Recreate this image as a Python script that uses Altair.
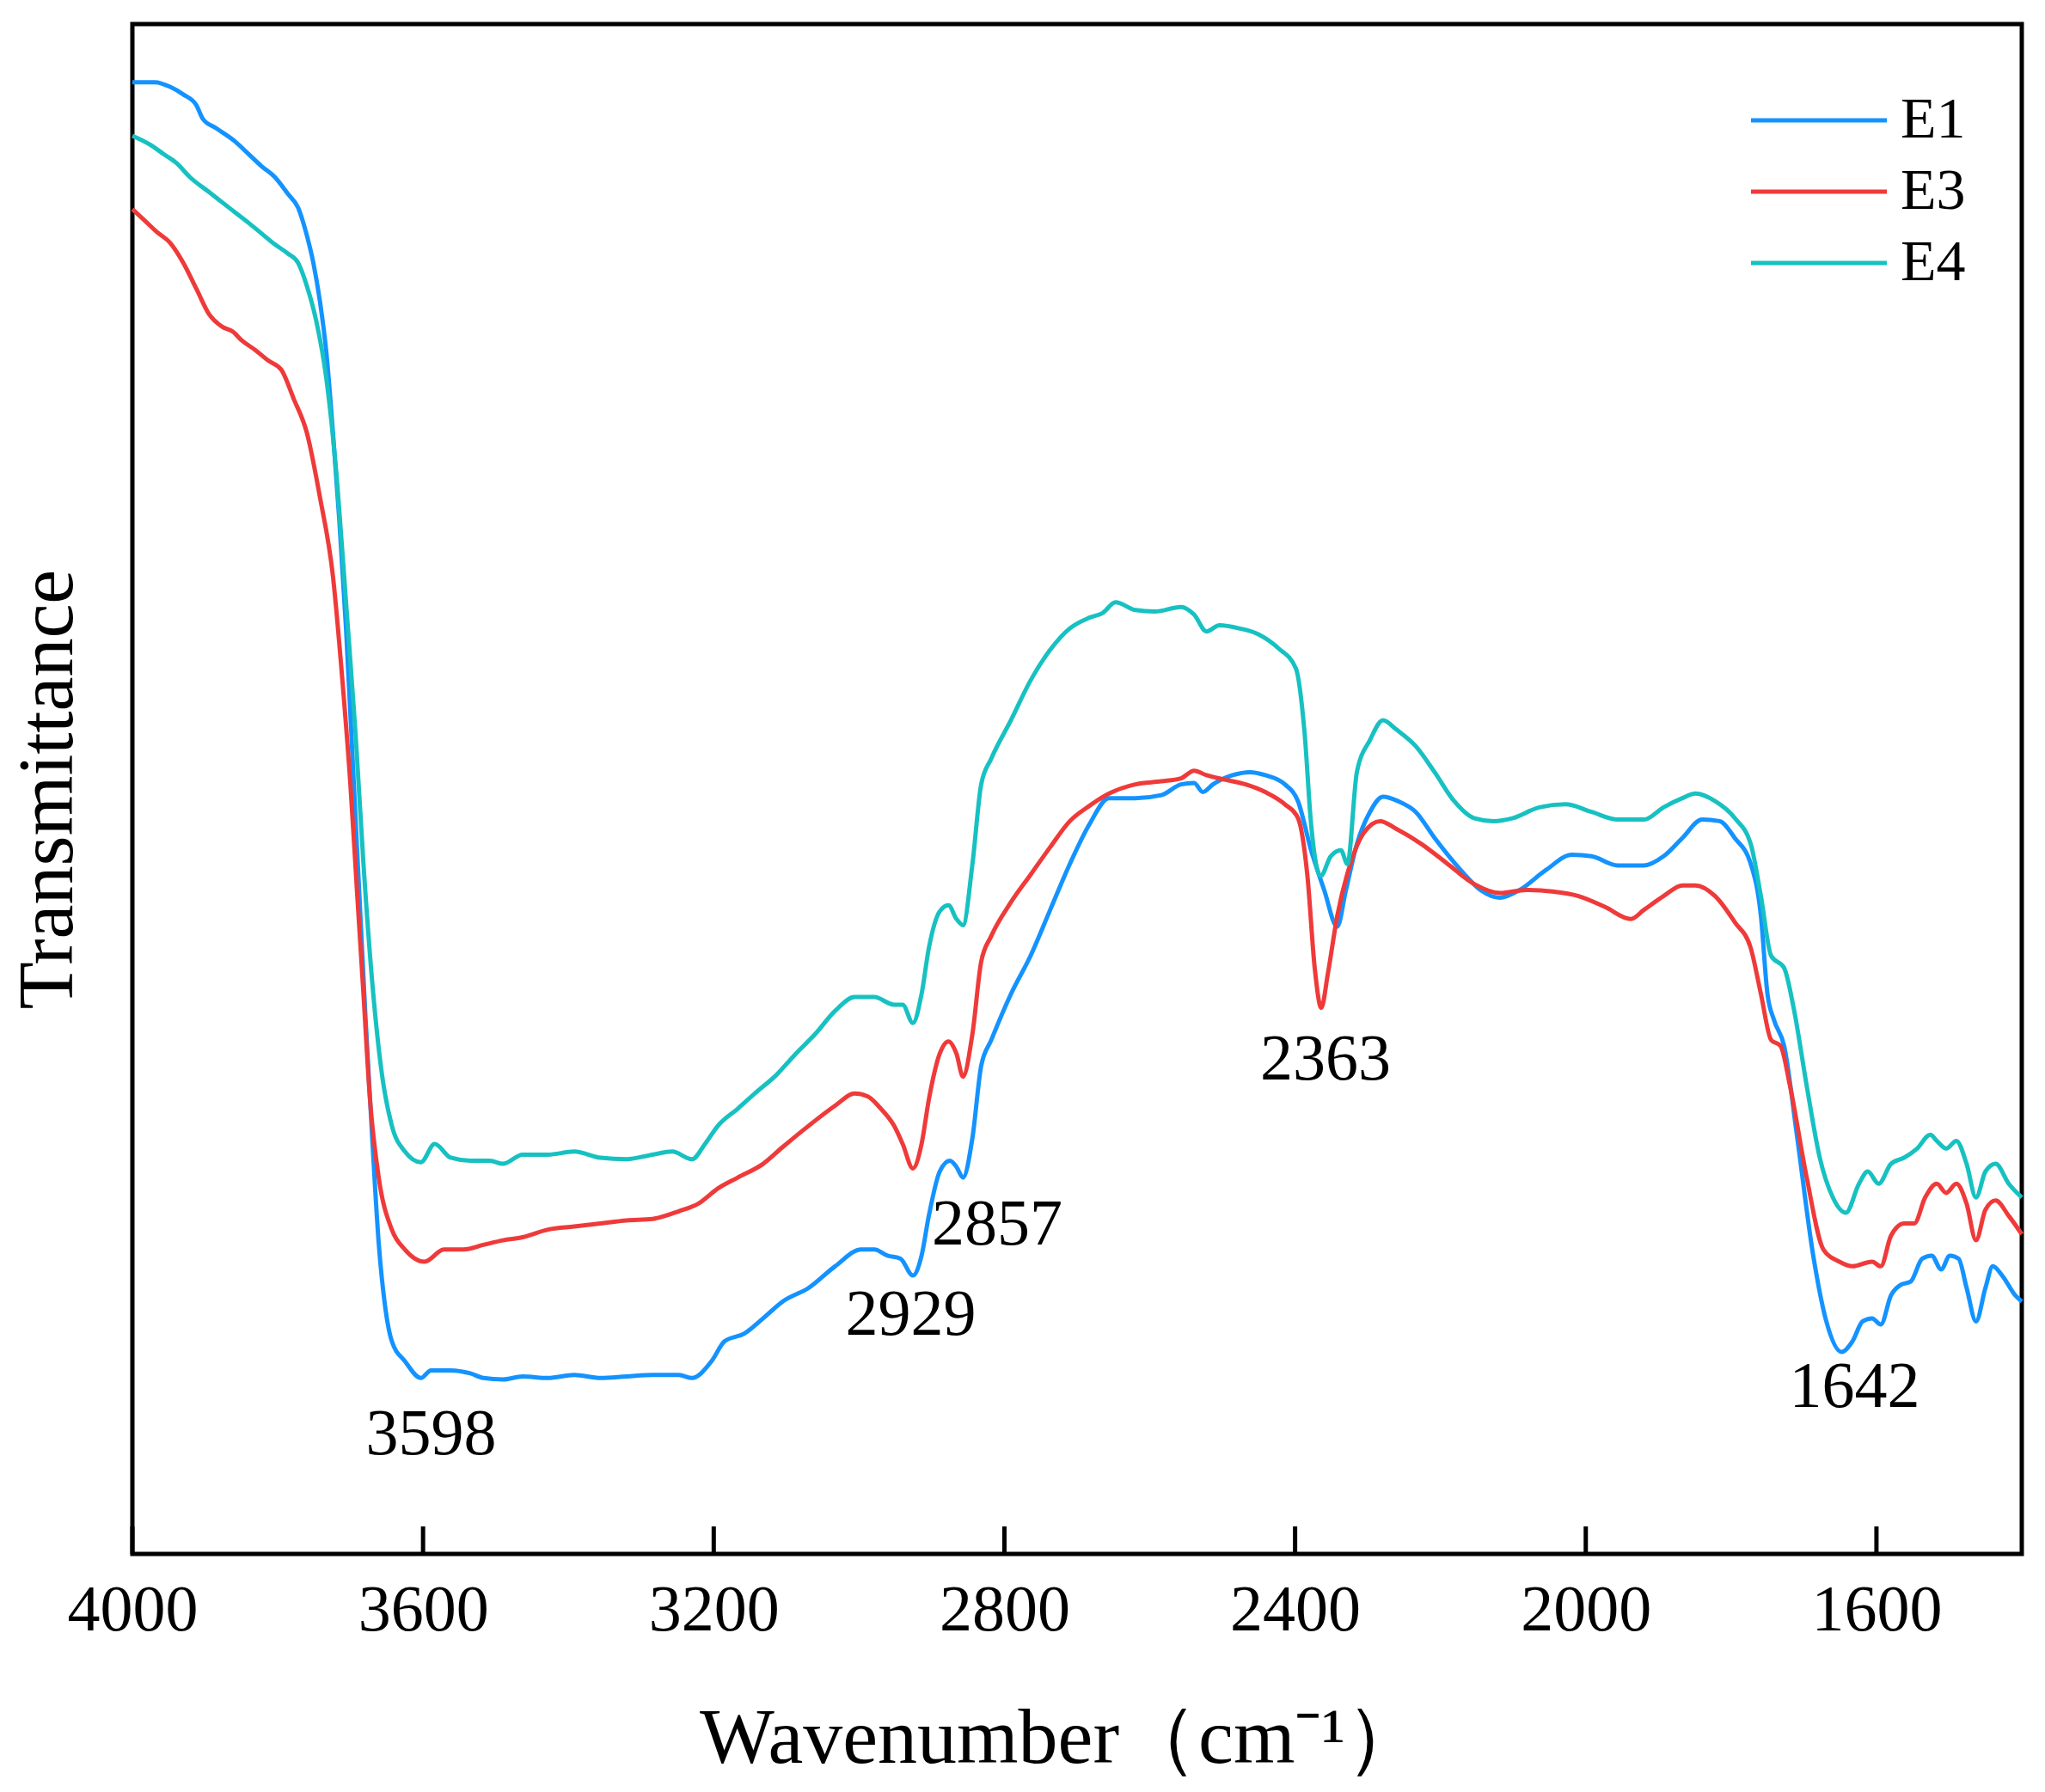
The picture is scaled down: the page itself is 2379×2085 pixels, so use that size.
import altair as alt
import pandas as pd

# ---------------- data ----------------
E1_WN = [4000, 3969, 3948, 3930, 3912, 3903, 3885, 3858, 3840, 3822, 3804, 3786, 3772, 3760,
         3751, 3742, 3733, 3724, 3715, 3706, 3697, 3688, 3679, 3670, 3661, 3652, 3643, 3625,
         3603, 3589, 3562, 3535, 3517, 3490, 3463, 3428, 3392, 3356, 3320, 3284, 3248, 3230,
         3203, 3185, 3158, 3132, 3105, 3069, 3033, 2997, 2979, 2961, 2943, 2926, 2914, 2904,
         2889, 2875, 2866, 2857, 2844, 2832, 2818, 2791, 2764, 2737, 2710, 2683, 2656, 2620,
         2584, 2557, 2539, 2527, 2513, 2486, 2462, 2441, 2414, 2396, 2378, 2360, 2342, 2330,
         2315, 2297, 2279, 2258, 2234, 2208, 2172, 2145, 2118, 2091, 2055, 2019, 1992, 1956,
         1920, 1893, 1867, 1840, 1816, 1795, 1773, 1759, 1750, 1741, 1727, 1709, 1687, 1669,
         1648, 1633, 1619, 1606, 1594, 1580, 1566, 1553, 1537, 1524, 1511, 1499, 1487, 1476,
         1463, 1450, 1440, 1427, 1409, 1400]
E1_T = [96.2, 96.2, 95.9, 95.4, 94.7, 93.8, 93.2, 92.3, 91.5, 90.7, 90.0, 88.9, 88.0, 86.2,
        84.4, 81.9, 78.5, 73.3, 67.4, 60.5, 52.0, 43.4, 34.9, 27.2, 20.3, 16.1, 13.9, 12.6,
        11.5, 12.0, 12.0, 11.8, 11.5, 11.4, 11.6, 11.5, 11.7, 11.5, 11.6, 11.7, 11.7, 11.5,
        12.6, 13.9, 14.4, 15.4, 16.5, 17.4, 18.8, 19.9, 19.9, 19.5, 19.3, 18.2, 19.5, 22.1,
        25.0, 25.7, 25.3, 24.6, 27.2, 31.9, 33.6, 36.6, 39.1, 42.1, 45.1, 47.7, 49.4, 49.4,
        49.6, 50.3, 50.4, 49.8, 50.3, 50.9, 51.1, 50.9, 50.3, 49.2, 46.0, 43.4, 41.0, 43.4,
        46.4, 48.5, 49.5, 49.2, 48.5, 46.8, 44.7, 43.4, 42.9, 43.4, 44.7, 45.7, 45.6, 45.0,
        45.0, 45.6, 46.8, 48.0, 47.9, 46.8, 45.1, 41.7, 36.6, 34.9, 33.2, 27.2, 19.5, 15.2,
        13.2, 13.9, 15.2, 15.4, 15.0, 16.9, 17.6, 17.8, 19.3, 19.5, 18.6, 19.5, 19.3, 17.4,
        15.2, 17.4, 18.8, 18.2, 16.9, 16.5]

E3_WN = [4000, 3984, 3966, 3948, 3930, 3912, 3894, 3876, 3862, 3849, 3831, 3813, 3795, 3778,
         3760, 3742, 3724, 3711, 3700, 3691, 3682, 3673, 3661, 3643, 3625, 3598, 3571, 3544,
         3517, 3490, 3463, 3428, 3392, 3356, 3320, 3284, 3248, 3221, 3194, 3167, 3132, 3105,
         3069, 3033, 3006, 2988, 2970, 2952, 2940, 2926, 2914, 2904, 2889, 2877, 2866, 2857,
         2844, 2832, 2818, 2791, 2764, 2737, 2710, 2683, 2656, 2620, 2584, 2557, 2539, 2522,
         2495, 2468, 2441, 2414, 2396, 2383, 2373, 2364, 2355, 2342, 2324, 2306, 2283, 2261,
         2226, 2190, 2154, 2118, 2082, 2046, 2010, 1974, 1938, 1920, 1893, 1867, 1849, 1822,
         1795, 1773, 1759, 1745, 1732, 1719, 1696, 1673, 1651, 1633, 1606, 1594, 1580, 1562,
         1548, 1533, 1517, 1504, 1490, 1476, 1463, 1450, 1436, 1418, 1400]
E3_T = [87.9, 87.2, 86.4, 85.7, 84.4, 82.7, 81.0, 80.2, 79.9, 79.3, 78.7, 78.0, 77.4, 75.5,
        73.3, 69.1, 63.9, 57.1, 50.3, 43.4, 36.6, 29.7, 24.6, 21.2, 19.9, 19.1, 19.9, 19.9,
        20.2, 20.5, 20.7, 21.2, 21.4, 21.6, 21.8, 21.9, 22.4, 22.9, 23.9, 24.6, 25.5, 26.6,
        28.0, 29.3, 30.1, 29.9, 29.1, 28.0, 26.8, 25.2, 26.8, 29.7, 32.7, 33.5, 32.7, 31.2,
        34.0, 38.7, 40.4, 42.6, 44.4, 46.2, 47.9, 48.9, 49.7, 50.3, 50.5, 50.7, 51.2, 50.9,
        50.6, 50.3, 49.8, 49.0, 48.1, 44.3, 38.3, 35.7, 37.9, 41.7, 45.1, 47.1, 47.9, 47.4,
        46.4, 45.1, 43.8, 43.2, 43.4, 43.3, 43.0, 42.3, 41.5, 42.1, 43.0, 43.7, 43.7, 43.0,
        41.3, 39.6, 36.6, 33.6, 33.2, 30.6, 24.6, 19.9, 19.1, 18.8, 19.1, 18.8, 20.8, 21.6,
        21.6, 23.3, 24.2, 23.6, 24.2, 22.9, 20.5, 22.5, 23.1, 22.1, 20.9]

E4_WN = [4000, 3975, 3957, 3939, 3921, 3894, 3867, 3840, 3822, 3804, 3786, 3772, 3760, 3747,
         3733, 3718, 3706, 3693, 3682, 3670, 3657, 3643, 3625, 3603, 3584, 3562, 3535, 3508,
         3490, 3463, 3428, 3392, 3356, 3320, 3284, 3257, 3230, 3212, 3194, 3167, 3141, 3114,
         3087, 3060, 3033, 3006, 2979, 2952, 2940, 2926, 2914, 2904, 2889, 2877, 2866, 2857,
         2844, 2832, 2818, 2791, 2764, 2737, 2710, 2683, 2665, 2647, 2620, 2593, 2557, 2539,
         2522, 2504, 2477, 2450, 2423, 2399, 2387, 2378, 2365, 2351, 2337, 2328, 2315, 2297,
         2279, 2261, 2234, 2208, 2181, 2154, 2127, 2100, 2064, 2028, 1992, 1956, 1920, 1893,
         1867, 1849, 1822, 1795, 1773, 1759, 1745, 1727, 1714, 1696, 1678, 1660, 1642, 1624,
         1612, 1597, 1580, 1562, 1544, 1526, 1517, 1504, 1490, 1476, 1463, 1450, 1436, 1418,
         1400]
E4_T = [92.7, 92.1, 91.5, 90.9, 90.0, 89.0, 88.0, 87.0, 86.3, 85.6, 85.0, 84.4, 82.9, 80.6,
        76.8, 69.9, 62.2, 53.7, 45.1, 37.4, 31.5, 28.0, 26.3, 25.6, 26.8, 25.9, 25.7, 25.7,
        25.5, 26.1, 26.1, 26.3, 25.9, 25.8, 26.1, 26.3, 25.8, 26.8, 28.0, 29.1, 30.2, 31.3,
        32.7, 34.0, 35.5, 36.4, 36.4, 35.9, 35.9, 34.7, 36.6, 39.6, 42.0, 42.4, 41.5, 41.1,
        45.1, 50.3, 52.0, 54.5, 57.1, 59.1, 60.5, 61.2, 61.5, 62.2, 61.7, 61.6, 61.9, 61.4,
        60.3, 60.7, 60.5, 60.1, 59.2, 57.9, 53.7, 47.7, 44.3, 45.6, 46.0, 45.1, 51.1, 53.2,
        54.5, 53.9, 52.8, 51.1, 49.2, 48.1, 47.9, 48.1, 48.8, 49.0, 48.5, 48.0, 48.0, 48.8,
        49.4, 49.7, 49.2, 48.1, 46.4, 43.0, 39.1, 38.3, 35.7, 30.6, 25.9, 23.3, 22.3, 24.2,
        25.0, 24.2, 25.5, 25.9, 26.5, 27.4, 27.0, 26.5, 27.0, 25.5, 23.3, 25.0, 25.5, 24.2,
        23.3]

SERIES = ["E1", "E3", "E4"]
COLORS = ["#1493FF", "#EF3A3A", "#17C1C1"]

TICK_VALUES = [4000, 3600, 3200, 2800, 2400, 2000, 1600]

PEAK_LABELS = ["3598", "2929", "2857", "2363", "1642"]
PEAK_WN = [3589, 2929, 2810, 2358, 1630]
PEAK_T = [7.8, 15.6, 21.5, 32.3, 10.9]

# ---------------- tables ----------------
rows = []
for name, wn, t in [("E1", E1_WN, E1_T), ("E3", E3_WN, E3_T), ("E4", E4_WN, E4_T)]:
    for i, (w, v) in enumerate(zip(wn, t)):
        rows.append({"series": name, "wn": w, "T": v, "i": i})
df = pd.DataFrame(rows)
ticks_df = pd.DataFrame({"wn": TICK_VALUES})
peaks_df = pd.DataFrame({"wn": PEAK_WN, "T": PEAK_T, "label": PEAK_LABELS})

W, H = 2198, 1780
FONT = "Liberation Serif"

xscale = alt.Scale(domain=[1400, 4000], reverse=True, nice=False, zero=False)
yscale = alt.Scale(domain=[0, 100], nice=False, zero=False)

lines = alt.Chart(df).mark_line(strokeWidth=5, interpolate="monotone").encode(
    x=alt.X("wn:Q", scale=xscale,
            axis=alt.Axis(values=TICK_VALUES, format="d", title="Wavenumber（cm⁻¹）",
                          labelFont=FONT, labelFontSize=76, labelColor="black",
                          labelPadding=28, labelBaseline="top", labelFlush=False,
                          labelOverlap=False,
                          ticks=False, domain=False, grid=False,
                          titleFont=FONT, titleFontSize=92, titleFontWeight="normal",
                          titleColor="black", titleX=1081, titleY=214,
                          titleAlign="center", titleBaseline="middle")),
    y=alt.Y("T:Q", scale=yscale,
            axis=alt.Axis(title="Transmittance", labels=False, ticks=False, domain=False,
                          grid=False, titleFont=FONT, titleFontSize=90,
                          titleFontWeight="normal", titleColor="black", titleAngle=270,
                          titleX=-98, titleY=890, titleAlign="center",
                          titleBaseline="middle")),
    color=alt.Color("series:N", scale=alt.Scale(domain=SERIES, range=COLORS),
                    legend=alt.Legend(title=None, orient="none", legendX=1913, legendY=63,
                                      symbolType="M-1.7,0H1.7", symbolSize=8649,
                                      symbolStrokeWidth=5, labelFont=FONT,
                                      labelFontSize=68, labelColor="black",
                                      labelOffset=46, rowPadding=0, padding=0)),
    order="i:Q",
)

tick_marks = alt.Chart(ticks_df).mark_rule(color="black", strokeWidth=5).encode(
    x=alt.X("wn:Q", scale=xscale),
    y=alt.value(H),
    y2=alt.value(H - 32),
)

peak_text = alt.Chart(peaks_df).mark_text(font=FONT, fontSize=76, color="black",
                                          baseline="middle", align="center").encode(
    x=alt.X("wn:Q", scale=xscale),
    y=alt.Y("T:Q", scale=yscale),
    text="label:N",
)

chart = alt.layer(lines, tick_marks, peak_text).properties(
    width=W, height=H,
    autosize=alt.AutoSizeParams(type="none"),
    padding={"left": 146, "top": 20, "right": 19, "bottom": 269},
    background="white",
).configure_view(stroke="black", strokeWidth=5)

chart.save("out.html", embed_options={"renderer": "svg", "actions": False})
